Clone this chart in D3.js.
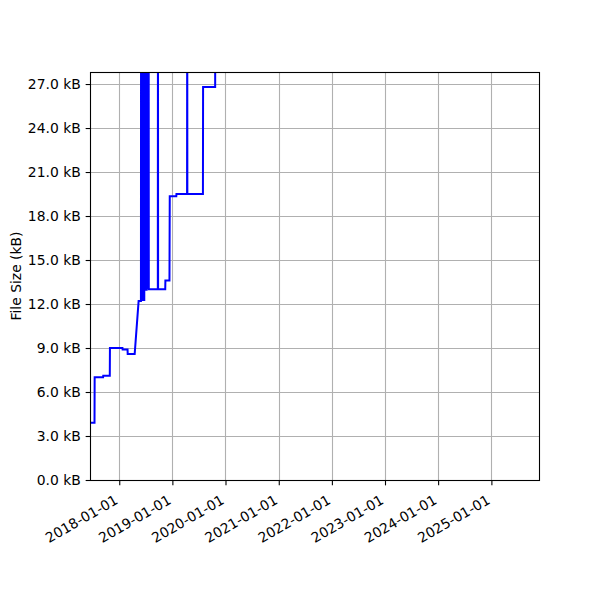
<!DOCTYPE html>
<html>
<head>
<meta charset="utf-8">
<script src="https://cdn.jsdelivr.net/npm/d3@7"></script>
<style>
  html, body { margin: 0; padding: 0; background: #fff; }
  svg { display: block; }
  text { font-family: "DejaVu Sans", sans-serif; }
</style>
</head>
<body>
<script>
// ---- data (commit date, file size in kB) ----
const commitDates = [
  "2017-06-01", "2017-07-15", "2017-07-16", "2017-09-12", "2017-09-13", "2017-10-28", "2017-10-29",
  "2018-01-23", "2018-01-24", "2018-02-27", "2018-02-28", "2018-04-17", "2018-05-14", "2018-05-30",
  "2018-05-31", "2018-06-02", "2018-06-04", "2018-06-06", "2018-06-08", "2018-06-10", "2018-06-12",
  "2018-06-14", "2018-06-16", "2018-06-18", "2018-06-20", "2018-06-22", "2018-06-24", "2018-06-26",
  "2018-06-28", "2018-06-30", "2018-07-02", "2018-07-04", "2018-07-06", "2018-07-08", "2018-07-10",
  "2018-07-12", "2018-07-14", "2018-07-16", "2018-07-18", "2018-07-20", "2018-07-22",
  "2018-07-23", "2018-09-23", "2018-09-24", "2018-09-25", "2018-11-13", "2018-11-14", "2018-12-12",
  "2018-12-14", "2019-01-28", "2019-01-29", "2019-04-12", "2019-04-13", "2019-04-14", "2019-07-30",
  "2019-07-31", "2019-10-22", "2019-10-23", "2019-12-31"
];
const fileSizes = [
  3.9, 3.9, 7.0, 7.0, 7.1, 7.1, 9.0,
  9.0, 8.9, 8.9, 8.6, 8.6, 12.2, 12.2,
  36, 12.3, 38, 12.2, 35, 12.3, 37,
  12.2, 36, 12.3, 38, 12.2, 36, 13.0,
  37, 12.9, 35, 13.0, 38, 12.9, 36,
  13.0, 37, 13.0, 36, 13.0, 37,
  13.0, 13.0, 36, 13.0, 13.0, 13.6, 13.6,
  19.35, 19.35, 19.5, 19.5, 36, 19.5, 19.5,
  26.8, 26.8, 36, 36
];
const yTicks = [0, 3, 6, 9, 12, 15, 18, 21, 24, 27];
const xTickYears = [2018, 2019, 2020, 2021, 2022, 2023, 2024, 2025];
const xDomain = ["2017-06-14", "2025-12-01"];
const yDomain = [0, 27.82];
const yLabel = "File Size (kB)";

// ---- layout ----
const W = 600, H = 600;
const m = { left: 90, right: 540, top: 72, bottom: 480 };
const parse = d3.utcParse("%Y-%m-%d");
const data = commitDates.map((d, i) => ({ date: parse(d), size: fileSizes[i] }));

const x = d3.scaleUtc().domain(xDomain.map(parse)).range([m.left, m.right]);
const y = d3.scaleLinear().domain(yDomain).range([m.bottom, m.top]);

const svg = d3.select("body").append("svg").attr("width", W).attr("height", H);
const FS = 13.9;
const tickLen = 4.86, pad = 4.86;

// grid
const grid = svg.append("g").attr("stroke", "#b0b0b0").attr("stroke-width", 1.1);
const xTickDates = xTickYears.map(yr => new Date(Date.UTC(yr, 0, 1)));
grid.selectAll("line.vx").data(xTickDates).join("line")
  .attr("x1", d => Math.round(x(d)) + 0.5).attr("x2", d => Math.round(x(d)) + 0.5)
  .attr("y1", m.top).attr("y2", m.bottom);
grid.selectAll("line.hy").data(yTicks).join("line")
  .attr("y1", d => Math.round(y(d)) + 0.5).attr("y2", d => Math.round(y(d)) + 0.5)
  .attr("x1", m.left).attr("x2", m.right);

// clip
svg.append("clipPath").attr("id", "clip").append("rect")
  .attr("x", m.left).attr("y", m.top).attr("width", m.right - m.left).attr("height", m.bottom - m.top);

// line
const line = d3.line().x(d => x(d.date)).y(d => y(d.size));
svg.append("path").datum(data)
  .attr("clip-path", "url(#clip)")
  .attr("fill", "none").attr("stroke", "#0000ff").attr("stroke-width", 2)
  .attr("stroke-linejoin", "miter").attr("stroke-linecap", "square")
  .attr("d", line);

// spines
svg.append("rect").attr("x", m.left + 0.5).attr("y", m.top + 0.5)
  .attr("width", m.right - m.left - 1).attr("height", m.bottom - m.top)
  .attr("fill", "none").attr("stroke", "#000").attr("stroke-width", 1.1);

// y axis ticks
const yAxis = d3.axisLeft(y).tickValues(yTicks)
  .tickFormat(d => d3.format(".1f")(d) + " kB").tickSize(tickLen).tickPadding(pad);
const gy = svg.append("g").attr("transform", `translate(${m.left + 0.5},0)`).call(yAxis);
gy.select(".domain").remove();
gy.selectAll(".tick line").attr("stroke", "#000").attr("stroke-width", 1.1);
gy.selectAll(".tick text").attr("font-size", FS).attr("fill", "#000")
  .attr("font-family", "DejaVu Sans");

// x axis ticks
const lx = -6, ly = tickLen + pad + 3.5;
const xAxis = d3.axisBottom(x).tickValues(xTickDates)
  .tickFormat(d3.utcFormat("%Y-%m-%d")).tickSize(tickLen).tickPadding(pad);
const gx = svg.append("g").attr("transform", `translate(0,${m.bottom + 0.5})`).call(xAxis);
gx.select(".domain").remove();
gx.selectAll(".tick line").attr("stroke", "#000").attr("stroke-width", 1.1);
gx.selectAll(".tick text")
  .attr("font-size", FS).attr("fill", "#000").attr("font-family", "DejaVu Sans")
  .attr("text-anchor", "end")
  .attr("dy", "0.76em")
  .attr("x", lx).attr("y", ly)
  .attr("transform", `rotate(-30, ${lx}, ${ly})`);

// y label
svg.append("text")
  .attr("transform", `translate(16, ${(m.top + m.bottom) / 2}) rotate(-90)`)
  .attr("text-anchor", "middle").attr("dominant-baseline", "central")
  .attr("font-size", FS).attr("fill", "#000")
  .text(yLabel);
</script>
</body>
</html>
